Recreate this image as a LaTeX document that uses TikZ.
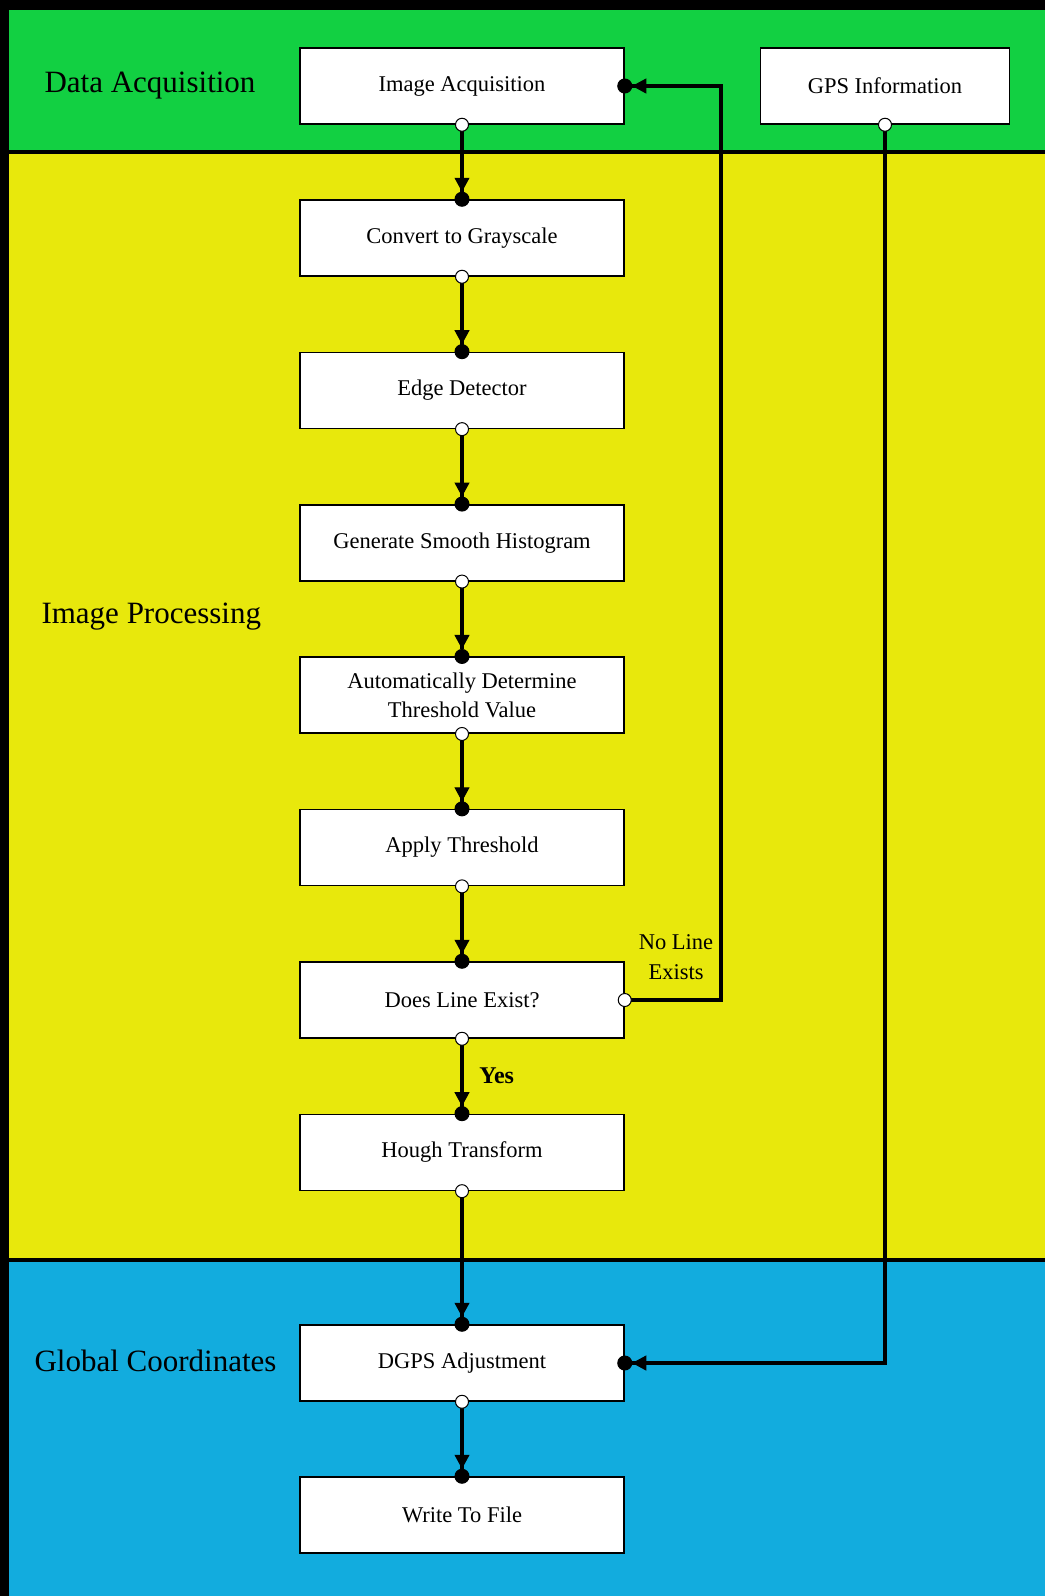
\documentclass[tikz,border=0pt]{standalone}
\usepackage{fontspec}
\setmainfont{Liberation Serif}
\usepackage{tikz}
\usetikzlibrary{arrows.meta}

\definecolor{acqgreen}{RGB}{18,208,66}
\definecolor{procyellow}{RGB}{232,232,12}
\definecolor{globblue}{RGB}{18,172,222}

\tikzset{
  stepbox/.style={draw, line width=1.5pt, fill=white, minimum width=324pt,
    minimum height=76pt, align=center, font=\fontsize{22.5}{29}\selectfont},
  section/.style={anchor=west, font=\fontsize{31}{36}\selectfont},
  flow/.style={line width=4pt,
    {Circle[fill=white, line width=1pt, length=14pt]}-{Triangle[length=14pt, width=15pt, line width=1pt] Circle[length=15pt, line width=1pt]},
    shorten <=-7pt, shorten >=-7.5pt}
}

\begin{document}
\begin{tikzpicture}[x=1pt, y=-1pt]
    \useasboundingbox (0, 0) rectangle (1045, 1596);

    % bands
    \fill [acqgreen] (0, 0) rectangle (1045, 152);
    \fill [procyellow] (0, 152) rectangle (1045, 1260);
    \fill [globblue] (0, 1260) rectangle (1045, 1596);
    \draw [line width=4pt] (0, 152) -- (1045, 152);
    \draw [line width=4pt] (0, 1260) -- (1045, 1260);
    \fill [black] (0, 0) rectangle (9, 1596);
    \fill [black] (0, 0) rectangle (1045, 10);

    \node [section] (daq) at (41, 86) {Data Acquisition};
    \node [section] (iproc) at (38, 617) {Image Processing};
    \node [section] (gcoord) at (31, 1361) {Global Coordinates};

    % boxes
    \node [stepbox] (ia) at (462, 86) {Image Acquisition};
    \node [stepbox, minimum width=249pt] (gps) at (885, 86) {GPS Information};
    \foreach \nm/\txt [count=\i from 0] in {cg/Convert to Grayscale,
        ed/Edge Detector, gsh/Generate Smooth Histogram,
        adt/{Automatically Determine\\Threshold Value}, at/Apply Threshold,
        dle/Does Line Exist?, ht/Hough Transform} {
      \node [stepbox] (\nm) at (462, {238 + 152.4 * \i}) {\txt};
    }
    \node [stepbox] (dgps) at (462, 1363) {DGPS Adjustment};
    \node [stepbox] (wtf) at (462, 1515) {Write To File};

    % connectors
    \foreach \a/\b in {ia/cg, cg/ed, ed/gsh, gsh/adt, adt/at, at/dle, ht/dgps, dgps/wtf} {
      \draw [flow] (\a.south) -- (\b.north);
    }
    \draw [flow] (dle.south) -- node [right=12pt, font=\fontsize{24}{28}\selectfont\bfseries] {Yes} (ht.north);
    \draw [flow] (dle.east) -- ++(96, 0) |- (ia.east);
    \draw [flow] (gps.south) |- (dgps.east);

    \node [align=center, font=\fontsize{22.5}{30}\selectfont] (noline) at (676, 957) {No Line\\Exists};
\end{tikzpicture}
\end{document}
